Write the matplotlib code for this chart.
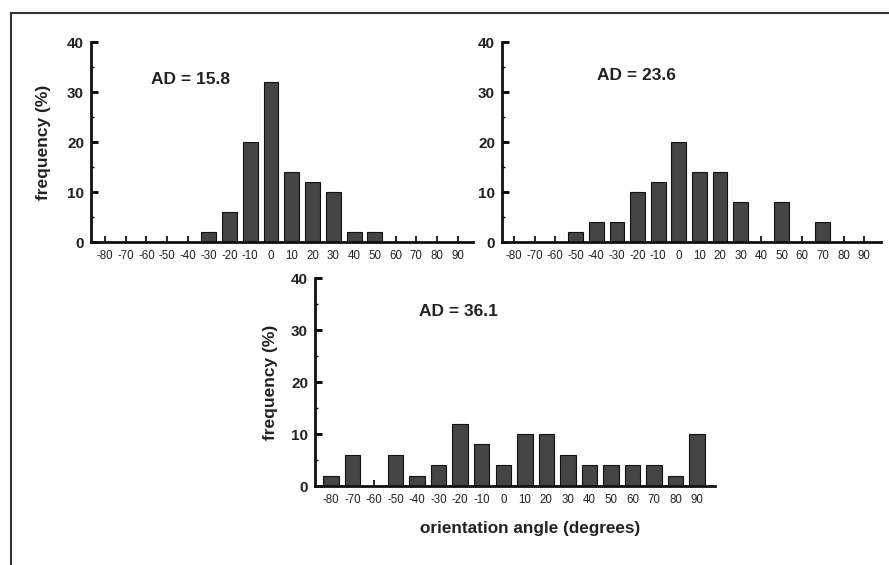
import matplotlib
matplotlib.use('Agg')
import matplotlib.pyplot as plt
import numpy as np
from matplotlib.ticker import MultipleLocator
from matplotlib.lines import Line2D

plt.rcParams['font.family'] = ['Liberation Sans', 'DejaVu Sans']

angles = [-80, -70, -60, -50, -40, -30, -20, -10, 0, 10, 20, 30, 40, 50, 60, 70, 80, 90]
freq_a = [0, 0, 0, 0, 0, 2, 6, 20, 32, 14, 12, 10, 2, 2, 0, 0, 0, 0]
freq_b = [0, 0, 0, 2, 4, 4, 10, 12, 20, 14, 14, 8, 0, 8, 0, 4, 0, 0]
freq_c = [2, 6, 0, 6, 2, 4, 12, 8, 4, 10, 10, 6, 4, 4, 4, 4, 2, 10]
ad_labels = ['AD = 15.8', 'AD = 23.6', 'AD = 36.1']

fig = plt.figure(figsize=(8.89, 5.65), dpi=100)

# frame lines (top and left only)
fig.add_artist(Line2D([10.5/889, 1.0], [1-12.5/565, 1-12.5/565], color='#333333', lw=1.5))
fig.add_artist(Line2D([10.5/889, 10.5/889], [0, 1-12.5/565], color='#333333', lw=1.5))

positions = [
    [91/889, 1-242/565, 382/889, 200/565],
    [502/889, 1-242/565, 379/889, 200/565],
    [315/889, 1-486/565, 400/889, 208/565],
]
text_pos = [(4.1, 32.4), (5.95, 33.2), (5.9, 33.5)]
xlims = [(-0.67, 17.73), (-0.58, 17.82), (-0.74, 17.83)]
ylab_x = [-0.105, None, -0.0925]
series = [freq_a, freq_b, freq_c]

x = np.arange(len(angles))
for i, pos in enumerate(positions):
    ax = fig.add_axes(pos)
    ax.set_axisbelow(True)
    ax.bar(x, series[i], width=0.72, color='#444444', edgecolor='#111111', linewidth=0.8)
    ax.set_xlim(*xlims[i])
    ax.set_ylim(0, 40)
    for s in ['top', 'right']:
        ax.spines[s].set_visible(False)
    for s in ['left', 'bottom']:
        ax.spines[s].set_linewidth(2)
        ax.spines[s].set_color('#111111')
    ax.set_xticks(x)
    ax.set_xticklabels([str(a) for a in angles], fontsize=8.3, color='#222222')
    ax.yaxis.set_major_locator(MultipleLocator(10))
    ax.yaxis.set_minor_locator(MultipleLocator(5))
    ax.tick_params(axis='x', direction='in', length=4, width=1.2, pad=6)
    ax.tick_params(axis='y', which='major', direction='in', length=5, width=2, pad=5, labelsize=11)
    ax.tick_params(axis='y', which='minor', direction='in', length=2, width=1)
    for lab in ax.get_yticklabels():
        lab.set_fontweight('bold')
        lab.set_color('#222222')
    ax.text(text_pos[i][0], text_pos[i][1], ad_labels[i], ha='center', va='center',
            fontsize=12.5, fontweight='bold', color='#222222')
    if ylab_x[i] is not None:
        ax.set_ylabel('frequency (%)', fontsize=12.5, fontweight='bold', color='#222222')
        ax.yaxis.set_label_coords(ylab_x[i], 0.5)

fig.text(530/889, 1-528/565, 'orientation angle (degrees)', ha='center', va='center',
         fontsize=12.3, fontweight='bold', color='#222222')

plt.savefig('out.png', dpi=100)
